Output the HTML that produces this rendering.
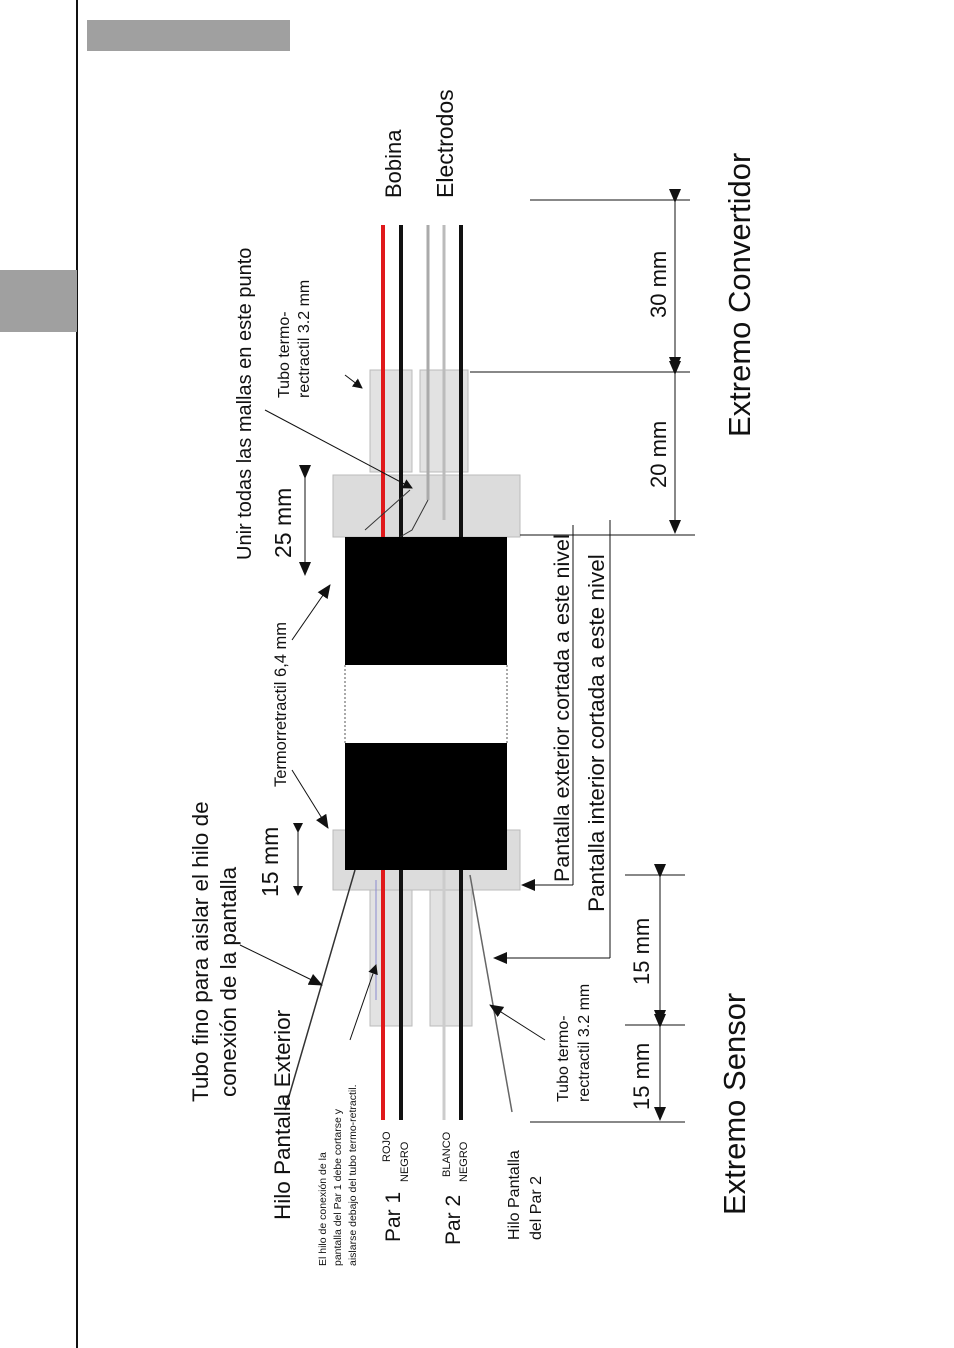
<!DOCTYPE html>
<html><head><meta charset="utf-8"><style>
html,body{margin:0;padding:0;background:#fff;}
svg{display:block;}
text{font-family:"Liberation Sans",Arial,sans-serif;fill:#111;}
</style></head><body>
<svg width="954" height="1348" viewBox="0 0 954 1348" xmlns="http://www.w3.org/2000/svg">
<defs>
<marker id="ah" markerWidth="10" markerHeight="10" refX="9" refY="5" orient="auto" markerUnits="userSpaceOnUse"><path d="M0,0 L10,5 L0,10 z" fill="#111"/></marker>
<marker id="ahs" markerWidth="14" markerHeight="12" refX="13" refY="6" orient="auto" markerUnits="userSpaceOnUse"><path d="M0,0 L14,6 L0,12 z" fill="#111"/></marker>
</defs>
<rect x="0" y="0" width="954" height="1348" fill="#fff"/>
<rect x="76" y="0" width="2" height="1348" fill="#111"/>
<rect x="0" y="270" width="77" height="62" fill="#a0a0a0"/>
<rect x="87" y="20" width="203" height="31" fill="#a0a0a0"/>

<rect x="370" y="370" width="42" height="102" fill="#e2e2e2" stroke="#bbb"/>
<rect x="420" y="370" width="48" height="102" fill="#e2e2e2" stroke="#bbb"/>
<rect x="370" y="888" width="42" height="138" fill="#e2e2e2" stroke="#bbb"/>
<rect x="430" y="888" width="42" height="138" fill="#e2e2e2" stroke="#bbb"/>
<rect x="333" y="475" width="187" height="62" fill="#dcdcdc" stroke="#bbb"/>
<rect x="333" y="830" width="187" height="60" fill="#dcdcdc" stroke="#bbb"/>

<line x1="383" y1="225" x2="383" y2="540" stroke="#e0191b" stroke-width="4"/>
<line x1="401" y1="225" x2="401" y2="540" stroke="#111" stroke-width="4"/>
<line x1="428" y1="225" x2="428" y2="500" stroke="#aaa" stroke-width="3"/>
<line x1="444" y1="225" x2="444" y2="520" stroke="#bbb" stroke-width="3"/>
<line x1="461" y1="225" x2="461" y2="540" stroke="#111" stroke-width="4"/>
<polyline points="428,500 412,530 400,537" fill="none" stroke="#333" stroke-width="1"/>
<polyline points="410,490 365,530" fill="none" stroke="#333" stroke-width="1"/>
<line x1="383" y1="868" x2="383" y2="1120" stroke="#e0191b" stroke-width="4"/>
<line x1="401" y1="868" x2="401" y2="1120" stroke="#111" stroke-width="4"/>
<line x1="444" y1="868" x2="444" y2="1120" stroke="#ccc" stroke-width="3"/>
<line x1="461" y1="868" x2="461" y2="1120" stroke="#111" stroke-width="4"/>
<line x1="376" y1="880" x2="376" y2="1000" stroke="#8a8ad0" stroke-width="1"/>
<line x1="470" y1="875" x2="512" y2="1112" stroke="#666" stroke-width="1.5"/>
<line x1="355" y1="870" x2="285" y2="1110" stroke="#333" stroke-width="1.5"/>

<rect x="345" y="537" width="162" height="128" fill="#000"/>
<rect x="345" y="743" width="162" height="127" fill="#000"/>
<line x1="345" y1="665" x2="345" y2="743" stroke="#555" stroke-dasharray="2,2"/>
<line x1="507" y1="665" x2="507" y2="743" stroke="#555" stroke-dasharray="2,2"/>

<g stroke="#111" stroke-width="1">
<line x1="530" y1="200" x2="690" y2="200"/>
<line x1="470" y1="372" x2="690" y2="372"/>
<line x1="520" y1="535" x2="695" y2="535"/>
<line x1="675" y1="202" x2="675" y2="370" marker-start="url(#ahs)" marker-end="url(#ahs)"/>
<line x1="675" y1="374" x2="675" y2="533" marker-start="url(#ahs)" marker-end="url(#ahs)"/>
<line x1="625" y1="875" x2="685" y2="875"/>
<line x1="625" y1="1025" x2="685" y2="1025"/>
<line x1="530" y1="1122" x2="685" y2="1122"/>
<line x1="660" y1="877" x2="660" y2="1023" marker-start="url(#ahs)" marker-end="url(#ahs)"/>
<line x1="660" y1="1027" x2="660" y2="1120" marker-start="url(#ahs)" marker-end="url(#ahs)"/>
<line x1="305" y1="478" x2="305" y2="575" marker-start="url(#ahs)" marker-end="url(#ahs)"/>
<line x1="298" y1="832" x2="298" y2="895" marker-start="url(#ah)" marker-end="url(#ah)"/>
<line x1="573" y1="525" x2="573" y2="885"/>
<line x1="573" y1="885" x2="522" y2="885" marker-end="url(#ahs)"/>
<line x1="610" y1="520" x2="610" y2="958"/>
<line x1="610" y1="958" x2="494" y2="958" marker-end="url(#ahs)"/>
<line x1="265" y1="410" x2="412" y2="488" marker-end="url(#ah)"/>
<line x1="345" y1="375" x2="362" y2="388" marker-end="url(#ah)"/>
<line x1="292" y1="640" x2="330" y2="585" marker-end="url(#ahs)"/>
<line x1="292" y1="770" x2="328" y2="828" marker-end="url(#ahs)"/>
<line x1="240" y1="945" x2="322" y2="985" marker-end="url(#ahs)"/>
<line x1="350" y1="1040" x2="376" y2="965" marker-end="url(#ah)"/>
<line x1="545" y1="1040" x2="490" y2="1005" marker-end="url(#ahs)"/>
</g>

<g>
<text transform="translate(401,198) rotate(-90)" font-size="22">Bobina</text>
<text transform="translate(453,198) rotate(-90)" font-size="23">Electrodos</text>
<text transform="translate(750,437) rotate(-90)" font-size="31">Extremo Convertidor</text>
<text transform="translate(745,1215) rotate(-90)" font-size="31">Extremo Sensor</text>
<text transform="translate(666,318) rotate(-90)" font-size="22">30 mm</text>
<text transform="translate(666,488) rotate(-90)" font-size="22">20 mm</text>
<text transform="translate(649,985) rotate(-90)" font-size="22">15 mm</text>
<text transform="translate(649,1110) rotate(-90)" font-size="22">15 mm</text>
<text transform="translate(251,560) rotate(-90)" font-size="20">Unir todas las mallas en este punto</text>
<text transform="translate(289,398) rotate(-90)" font-size="16">Tubo termo-</text>
<text transform="translate(309,398) rotate(-90)" font-size="16">rectractil 3.2 mm</text>
<text transform="translate(291,558) rotate(-90)" font-size="23">25 mm</text>
<text transform="translate(286,787) rotate(-90)" font-size="16.5">Termorretractil 6,4 mm</text>
<text transform="translate(278,897) rotate(-90)" font-size="23">15 mm</text>
<text transform="translate(208,1102) rotate(-90)" font-size="22.5">Tubo fino para aislar el hilo de</text>
<text transform="translate(236,1097) rotate(-90)" font-size="22.5">conexión de la pantalla</text>
<text transform="translate(290,1220) rotate(-90)" font-size="22.5">Hilo Pantalla Exterior</text>
<text transform="translate(326,1266) rotate(-90)" font-size="10.5">El hilo de conexión de la</text>
<text transform="translate(341,1266) rotate(-90)" font-size="10.5">pantalla del Par 1 debe cortarse y</text>
<text transform="translate(356,1266) rotate(-90)" font-size="10.5">aislarse debajo del tubo termo-retractil.</text>
<text transform="translate(400,1242) rotate(-90)" font-size="21">Par 1</text>
<text transform="translate(390,1162) rotate(-90)" font-size="11">ROJO</text>
<text transform="translate(408,1182) rotate(-90)" font-size="11">NEGRO</text>
<text transform="translate(460,1245) rotate(-90)" font-size="21">Par 2</text>
<text transform="translate(450,1177) rotate(-90)" font-size="11">BLANCO</text>
<text transform="translate(467,1182) rotate(-90)" font-size="11">NEGRO</text>
<text transform="translate(519,1240) rotate(-90)" font-size="16">Hilo Pantalla</text>
<text transform="translate(541,1240) rotate(-90)" font-size="16">del Par 2</text>
<text transform="translate(568,1102) rotate(-90)" font-size="16">Tubo termo-</text>
<text transform="translate(589,1102) rotate(-90)" font-size="16">rectractil 3.2 mm</text>
<text transform="translate(569,882) rotate(-90)" font-size="21.5">Pantalla exterior cortada a este nivel</text>
<text transform="translate(604,912) rotate(-90)" font-size="22.5">Pantalla interior cortada a este nivel</text>
</g>
</svg>
</body></html>
